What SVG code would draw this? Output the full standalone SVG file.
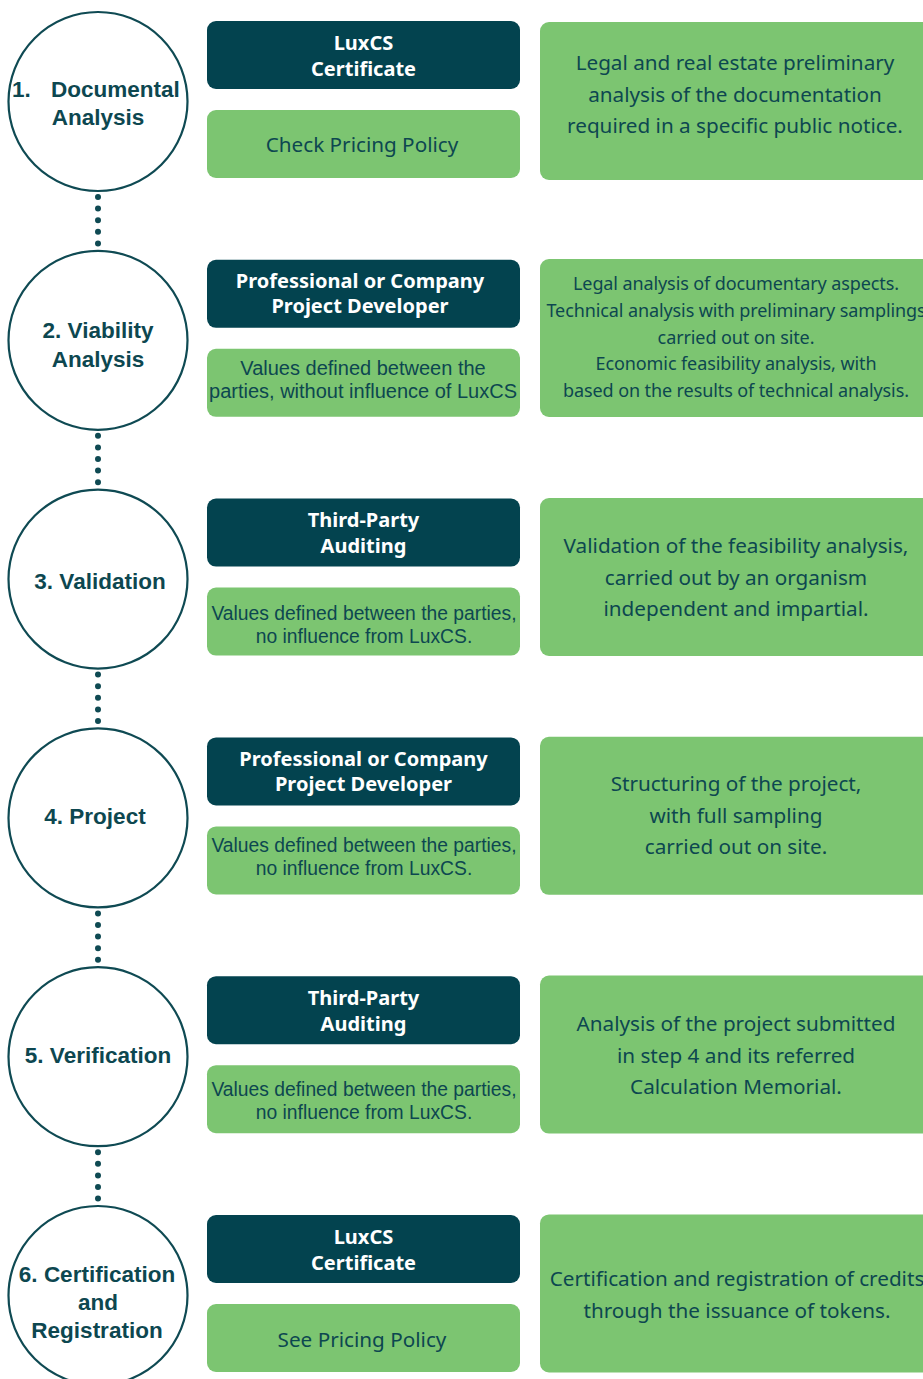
<svg xmlns="http://www.w3.org/2000/svg" width="923" height="1379" viewBox="0 0 923 1379">
<style>
.step{fill:#fff;stroke:#0F4A53;stroke-width:2.2}
.role{fill:#03434F}
.price{fill:#7CC571}
.desc{fill:#7CC571}
.st{font-family:"Liberation Sans",Arial,sans-serif;font-weight:700;font-size:22.5px;fill:#0D4750;text-anchor:middle}
.rt{font-family:"Noto Sans","Liberation Sans",sans-serif;font-weight:700;font-size:20px;fill:#fff;text-anchor:middle}
.pt{font-family:"Liberation Sans",Arial,sans-serif;font-size:20px;fill:#0D4750;text-anchor:middle}
.ps{font-family:"Liberation Sans",Arial,sans-serif;font-size:19.3px;fill:#0D4750;text-anchor:middle}
.dt{font-family:"Noto Sans","Liberation Sans",sans-serif;font-size:20.7px;fill:#0D4750;text-anchor:middle}
.ds{font-family:"Noto Sans","Liberation Sans",sans-serif;font-size:18px;fill:#0D4750;text-anchor:middle;letter-spacing:-0.1px}
.dots{stroke:#0F4A53;stroke-width:6;stroke-linecap:round;stroke-dasharray:0 11.6;fill:none}
</style>
<rect width="923" height="1379" fill="#fff"/>
<g id="connectors">
<line class="dots" x1="98" y1="197" x2="98" y2="244"/>
<line class="dots" x1="98" y1="435.8" x2="98" y2="482.8"/>
<line class="dots" x1="98" y1="674.6" x2="98" y2="721.6"/>
<line class="dots" x1="98" y1="913.4" x2="98" y2="960.4"/>
<line class="dots" x1="98" y1="1152.2" x2="98" y2="1199.2"/>
</g>

<!-- Row 1 -->
<g id="step1">
<circle class="step" cx="98" cy="101.5" r="89.5"/>
<text class="st" style="text-anchor:start" x="12" y="97">1.</text>
<text class="st" style="text-anchor:start" x="51" y="97">Documental</text>
<text class="st" x="98" y="125">Analysis</text>
</g>
<g id="role1">
<rect class="role" x="207" y="21" width="313" height="68" rx="9"/>
<text class="rt" x="363.5" y="50">LuxCS</text>
<text class="rt" x="363.5" y="76">Certificate</text>
</g>
<g id="price1">
<rect class="price" x="207" y="110" width="313" height="68" rx="9"/>
<text class="dt" x="362" y="152">Check Pricing Policy</text>
</g>
<g id="desc1">
<rect class="desc" x="540" y="22" width="400" height="158" rx="9"/>
<text class="dt" x="735" y="70">Legal and real estate preliminary</text>
<text class="dt" x="735" y="102">analysis of the documentation</text>
<text class="dt" x="735" y="133">required in a specific public notice.</text>
</g>

<!-- Row 2 -->
<g id="step2">
<circle class="step" cx="98" cy="340.3" r="89.5"/>
<text class="st" x="98" y="338">2. Viability</text>
<text class="st" x="98" y="367">Analysis</text>
</g>
<g id="role2">
<rect class="role" x="207" y="259.8" width="313" height="68" rx="9"/>
<text class="rt" x="360" y="288">Professional or Company</text>
<text class="rt" x="360" y="313">Project Developer</text>
</g>
<g id="price2">
<rect class="price" x="207" y="348.8" width="313" height="68" rx="9"/>
<text class="pt" x="363" y="375">Values defined between the</text>
<text class="pt" x="363" y="398">parties, without influence of LuxCS</text>
</g>
<g id="desc2">
<rect class="desc" x="540" y="259" width="400" height="158" rx="9"/>
<text class="ds" x="736" y="290">Legal analysis of documentary aspects.</text>
<text class="ds" x="736" y="317">Technical analysis with preliminary samplings</text>
<text class="ds" x="736" y="344">carried out on site.</text>
<text class="ds" x="736" y="370">Economic feasibility analysis, with</text>
<text class="ds" x="736" y="397">based on the results of technical analysis.</text>
</g>

<!-- Row 3 -->
<g id="step3">
<circle class="step" cx="98" cy="579.1" r="89.5"/>
<text class="st" x="100" y="589">3. Validation</text>
</g>
<g id="role3">
<rect class="role" x="207" y="498.6" width="313" height="68" rx="9"/>
<text class="rt" x="363.5" y="527">Third-Party</text>
<text class="rt" x="363.5" y="553">Auditing</text>
</g>
<g id="price3">
<rect class="price" x="207" y="587.6" width="313" height="68" rx="9"/>
<text class="ps" x="364" y="620">Values defined between the parties,</text>
<text class="ps" x="364" y="643">no influence from LuxCS.</text>
</g>
<g id="desc3">
<rect class="desc" x="540" y="498" width="400" height="158" rx="9"/>
<text class="dt" x="736" y="553">Validation of the feasibility analysis,</text>
<text class="dt" x="736" y="585">carried out by an organism</text>
<text class="dt" x="736" y="616">independent and impartial.</text>
</g>

<!-- Row 4 -->
<g id="step4">
<circle class="step" cx="98" cy="817.9" r="89.5"/>
<text class="st" x="95" y="824">4. Project</text>
</g>
<g id="role4">
<rect class="role" x="207" y="737.4" width="313" height="68" rx="9"/>
<text class="rt" x="363.5" y="766">Professional or Company</text>
<text class="rt" x="363.5" y="791">Project Developer</text>
</g>
<g id="price4">
<rect class="price" x="207" y="826.4" width="313" height="68" rx="9"/>
<text class="ps" x="364" y="852">Values defined between the parties,</text>
<text class="ps" x="364" y="875">no influence from LuxCS.</text>
</g>
<g id="desc4">
<rect class="desc" x="540" y="736.8" width="400" height="158" rx="9"/>
<text class="dt" x="736" y="791">Structuring of the project,</text>
<text class="dt" x="736" y="823">with full sampling</text>
<text class="dt" x="736" y="854">carried out on site.</text>
</g>

<!-- Row 5 -->
<g id="step5">
<circle class="step" cx="98" cy="1056.7" r="89.5"/>
<text class="st" x="98" y="1063">5. Verification</text>
</g>
<g id="role5">
<rect class="role" x="207" y="976.2" width="313" height="68" rx="9"/>
<text class="rt" x="363.5" y="1005">Third-Party</text>
<text class="rt" x="363.5" y="1031">Auditing</text>
</g>
<g id="price5">
<rect class="price" x="207" y="1065.2" width="313" height="68" rx="9"/>
<text class="ps" x="364" y="1096">Values defined between the parties,</text>
<text class="ps" x="364" y="1119">no influence from LuxCS.</text>
</g>
<g id="desc5">
<rect class="desc" x="540" y="975.6" width="400" height="158" rx="9"/>
<text class="dt" x="736" y="1031">Analysis of the project submitted</text>
<text class="dt" x="736" y="1063">in step 4 and its referred</text>
<text class="dt" x="736" y="1094">Calculation Memorial.</text>
</g>

<!-- Row 6 -->
<g id="step6">
<circle class="step" cx="98" cy="1295.5" r="89.5"/>
<text class="st" x="97" y="1282">6. Certification</text>
<text class="st" x="98" y="1310">and</text>
<text class="st" x="97" y="1338">Registration</text>
</g>
<g id="role6">
<rect class="role" x="207" y="1215" width="313" height="68" rx="9"/>
<text class="rt" x="363.5" y="1244">LuxCS</text>
<text class="rt" x="363.5" y="1270">Certificate</text>
</g>
<g id="price6">
<rect class="price" x="207" y="1304" width="313" height="68" rx="9"/>
<text class="dt" x="362" y="1347">See Pricing Policy</text>
</g>
<g id="desc6">
<rect class="desc" x="540" y="1214.4" width="400" height="158" rx="9"/>
<text class="dt" x="737" y="1286">Certification and registration of credits</text>
<text class="dt" x="737" y="1318">through the issuance of tokens.</text>
</g>
</svg>
